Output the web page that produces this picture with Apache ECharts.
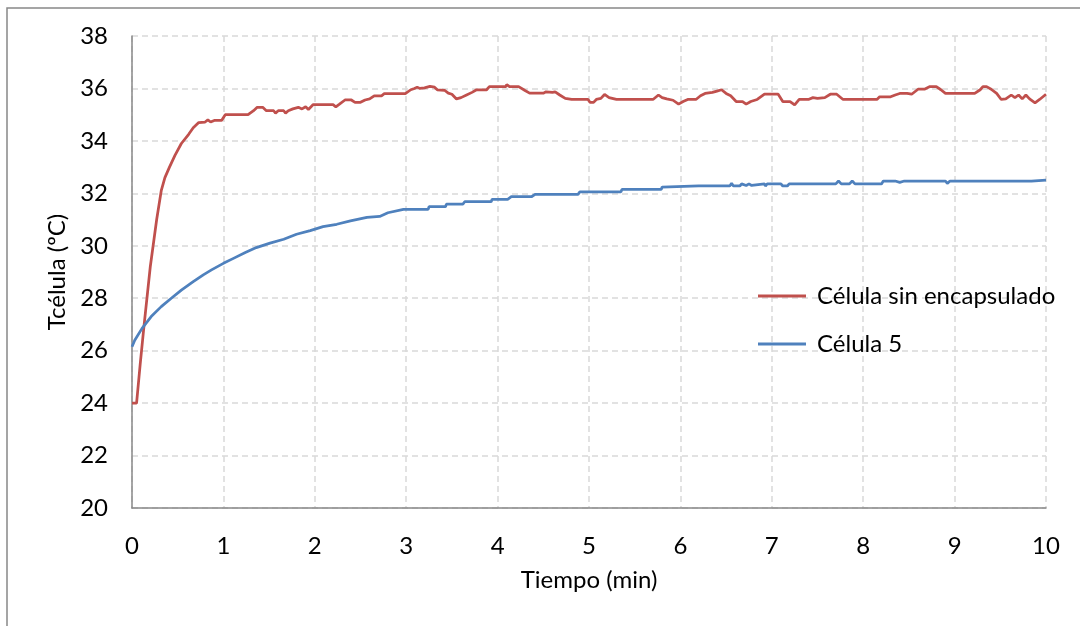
<!DOCTYPE html>
<html>
<head>
<meta charset="utf-8">
<script src="https://cdn.jsdelivr.net/npm/echarts@6/dist/echarts.min.js"></script>
<style>
    html, body {margin:0;padding:0;background:#ffffff;}
    #chart {width:1080px;height:626px;}
</style>
</head>
<body>
<div id="chart"></div>
<script>
    // ticks of both axes
    var xTicks = [0, 1, 2, 3, 4, 5, 6, 7, 8, 9, 10];
    var yTicks = [20, 22, 24, 26, 28, 30, 32, 34, 36, 38];

    var seriesNames = ['Célula sin encapsulado', 'Célula 5'];

    // [tiempo (min), temperatura (ºC)]
    var celulaSinEncapsulado = [
        [0, 24.0], [0.05, 24.0], [0.09, 25.5], [0.13, 26.9], [0.2, 29.2], [0.27, 31.0], [0.32, 32.1],
        [0.36, 32.6], [0.41, 33.0], [0.47, 33.45], [0.54, 33.9], [0.62, 34.25], [0.67, 34.5], [0.73, 34.7],
        [0.8, 34.72], [0.83, 34.8], [0.86, 34.72], [0.9, 34.78], [0.98, 34.78], [1.02, 35.0], [1.27, 35.0],
        [1.33, 35.15], [1.37, 35.28], [1.43, 35.28], [1.47, 35.15], [1.55, 35.15], [1.57, 35.06], [1.6, 35.15],
        [1.66, 35.15], [1.68, 35.06], [1.71, 35.15], [1.76, 35.22], [1.82, 35.28], [1.86, 35.22], [1.9, 35.3],
        [1.93, 35.2], [1.98, 35.38], [2.2, 35.38], [2.23, 35.3], [2.27, 35.4], [2.33, 35.56], [2.4, 35.56],
        [2.44, 35.47], [2.5, 35.47], [2.55, 35.56], [2.6, 35.6], [2.65, 35.72], [2.73, 35.72], [2.76, 35.8],
        [2.99, 35.8], [3.05, 35.95], [3.09, 36.0], [3.12, 36.05], [3.15, 36.0], [3.2, 36.02], [3.26, 36.08],
        [3.28, 36.15], [3.31, 36.05], [3.34, 35.95], [3.42, 35.93], [3.46, 35.82], [3.5, 35.78], [3.55, 35.6],
        [3.6, 35.65], [3.66, 35.75], [3.72, 35.85], [3.77, 35.95], [3.88, 35.95], [3.91, 36.07], [4.09, 36.07],
        [4.1, 36.15], [4.13, 36.07], [4.23, 36.07], [4.3, 35.92], [4.35, 35.82], [4.5, 35.82], [4.53, 35.87],
        [4.6, 35.85], [4.63, 35.87], [4.68, 35.75], [4.74, 35.62], [4.81, 35.58], [4.99, 35.58], [5.01, 35.47],
        [5.05, 35.47], [5.08, 35.58], [5.13, 35.62], [5.17, 35.77], [5.22, 35.65], [5.3, 35.58], [5.4, 35.58],
        [5.42, 35.52], [5.45, 35.58], [5.7, 35.58], [5.76, 35.75], [5.8, 35.65], [5.85, 35.6], [5.92, 35.55],
        [5.98, 35.4], [6.03, 35.5], [6.08, 35.58], [6.17, 35.58], [6.22, 35.72], [6.27, 35.81], [6.35, 35.85],
        [6.4, 35.9], [6.45, 35.95], [6.5, 35.81], [6.55, 35.72], [6.61, 35.5], [6.68, 35.5], [6.72, 35.4],
        [6.77, 35.5], [6.84, 35.58], [6.92, 35.78], [7.07, 35.78], [7.12, 35.5], [7.2, 35.5], [7.25, 35.37],
        [7.3, 35.58], [7.4, 35.58], [7.45, 35.65], [7.5, 35.62], [7.58, 35.65], [7.64, 35.78], [7.71, 35.78],
        [7.78, 35.58], [8.15, 35.58], [8.18, 35.68], [8.3, 35.68], [8.35, 35.75], [8.4, 35.81], [8.48, 35.81],
        [8.53, 35.78], [8.6, 35.97], [8.67, 35.97], [8.73, 36.07], [8.8, 36.07], [8.85, 35.95], [8.9, 35.81],
        [9.22, 35.81], [9.28, 35.95], [9.31, 36.07], [9.35, 36.07], [9.4, 35.97], [9.46, 35.81], [9.51, 35.58],
        [9.56, 35.6], [9.62, 35.75], [9.66, 35.65], [9.7, 35.75], [9.74, 35.6], [9.78, 35.75], [9.82, 35.6],
        [9.88, 35.45], [9.93, 35.58], [10.0, 35.78]
    ];

    var celula5 = [
        [0, 26.15], [0.03, 26.4], [0.11, 26.85], [0.21, 27.3], [0.32, 27.68], [0.43, 28.0], [0.54, 28.31],
        [0.67, 28.63], [0.78, 28.89], [0.87, 29.08], [1.0, 29.33], [1.11, 29.52], [1.24, 29.74], [1.36, 29.93],
        [1.51, 30.1], [1.66, 30.25], [1.8, 30.44], [1.95, 30.58], [2.09, 30.73], [2.24, 30.82], [2.39, 30.95],
        [2.57, 31.08], [2.71, 31.12], [2.8, 31.26], [2.97, 31.39], [3.1, 31.39], [3.12, 31.32], [3.14, 31.39],
        [3.24, 31.39], [3.25, 31.49], [3.43, 31.49], [3.44, 31.59], [3.62, 31.59], [3.64, 31.68], [3.93, 31.68],
        [3.94, 31.77], [4.11, 31.77], [4.15, 31.87], [4.37, 31.87], [4.41, 31.96], [4.88, 31.96], [4.9, 32.06],
        [5.35, 32.06], [5.36, 32.15], [5.79, 32.15], [5.8, 32.24], [6.2, 32.28], [6.54, 32.28], [6.56, 32.38],
        [6.58, 32.28], [6.65, 32.28], [6.67, 32.36], [6.72, 32.3], [6.75, 32.36], [6.78, 32.3], [6.8, 32.36],
        [6.92, 32.36], [6.93, 32.28], [6.95, 32.36], [7.1, 32.36], [7.12, 32.28], [7.17, 32.28], [7.19, 32.36],
        [7.7, 32.36], [7.73, 32.47], [7.76, 32.36], [7.85, 32.36], [7.88, 32.47], [7.91, 32.36], [8.2, 32.36],
        [8.22, 32.47], [8.3, 32.47], [8.32, 32.4], [8.35, 32.47], [8.4, 32.42], [8.45, 32.47], [8.9, 32.47],
        [8.92, 32.38], [8.95, 32.47], [9.15, 32.47], [9.17, 32.4], [9.19, 32.47], [9.27, 32.47], [9.29, 32.4],
        [9.31, 32.47], [9.8, 32.47], [9.82, 32.4], [9.84, 32.47], [10.0, 32.5]
    ];

    var font = 'Lato, "Liberation Sans", sans-serif';
    var chart = echarts.init(document.getElementById('chart'), null, {renderer: 'canvas'});

    var gridLine = {show: true, lineStyle: {color: '#d9d9d9', width: 1.5, type: [6, 4]}};

    var option = {
        animation: false,
        backgroundColor: '#ffffff',
        graphic: [{
            type: 'rect',
            shape: {x: 7, y: 8, width: 1200, height: 800},
            style: {fill: 'none', stroke: '#888888', lineWidth: 1.5},
            silent: true
        }],
        grid: {left: 132, top: 36, right: 34, bottom: 118},
        legend: {
            orient: 'vertical',
            left: 758,
            top: 284,
            padding: 0,
            itemWidth: 48,
            itemHeight: 3,
            itemGap: 24,
            icon: 'rect',
            textStyle: {fontFamily: font, fontSize: 24, color: '#000', padding: [0, 0, 0, 6]},
            data: seriesNames
        },
        xAxis: {
            type: 'value',
            min: xTicks[0],
            max: xTicks[xTicks.length - 1],
            interval: 1,
            name: 'Tiempo (min)',
            nameLocation: 'middle',
            nameGap: 60,
            nameTextStyle: {fontFamily: font, fontSize: 24, color: '#000'},
            axisLine: {show: true, onZero: false, lineStyle: {color: '#888888', width: 1.5}},
            axisTick: {show: false},
            axisLabel: {fontFamily: font, fontSize: 24, color: '#000', margin: 26},
            splitLine: gridLine
        },
        yAxis: {
            type: 'value',
            min: yTicks[0],
            max: yTicks[yTicks.length - 1],
            interval: 2,
            name: 'Tcélula (ºC)',
            nameLocation: 'middle',
            nameGap: 62,
            nameTextStyle: {fontFamily: font, fontSize: 24, color: '#000'},
            axisLine: {show: true, lineStyle: {color: '#888888', width: 1.5}},
            axisTick: {show: false},
            axisLabel: {fontFamily: font, fontSize: 24, color: '#000', margin: 24},
            splitLine: gridLine
        },
        series: [
            {
                name: seriesNames[0],
                type: 'line',
                data: celulaSinEncapsulado,
                showSymbol: false,
                color: '#c0504d',
                lineStyle: {width: 2.75, color: '#c0504d'}
            },
            {
                name: seriesNames[1],
                type: 'line',
                data: celula5,
                showSymbol: false,
                color: '#4f81bd',
                lineStyle: {width: 2.75, color: '#4f81bd'}
            }
        ]
    };
    chart.setOption(option);
</script>
</body>
</html>
